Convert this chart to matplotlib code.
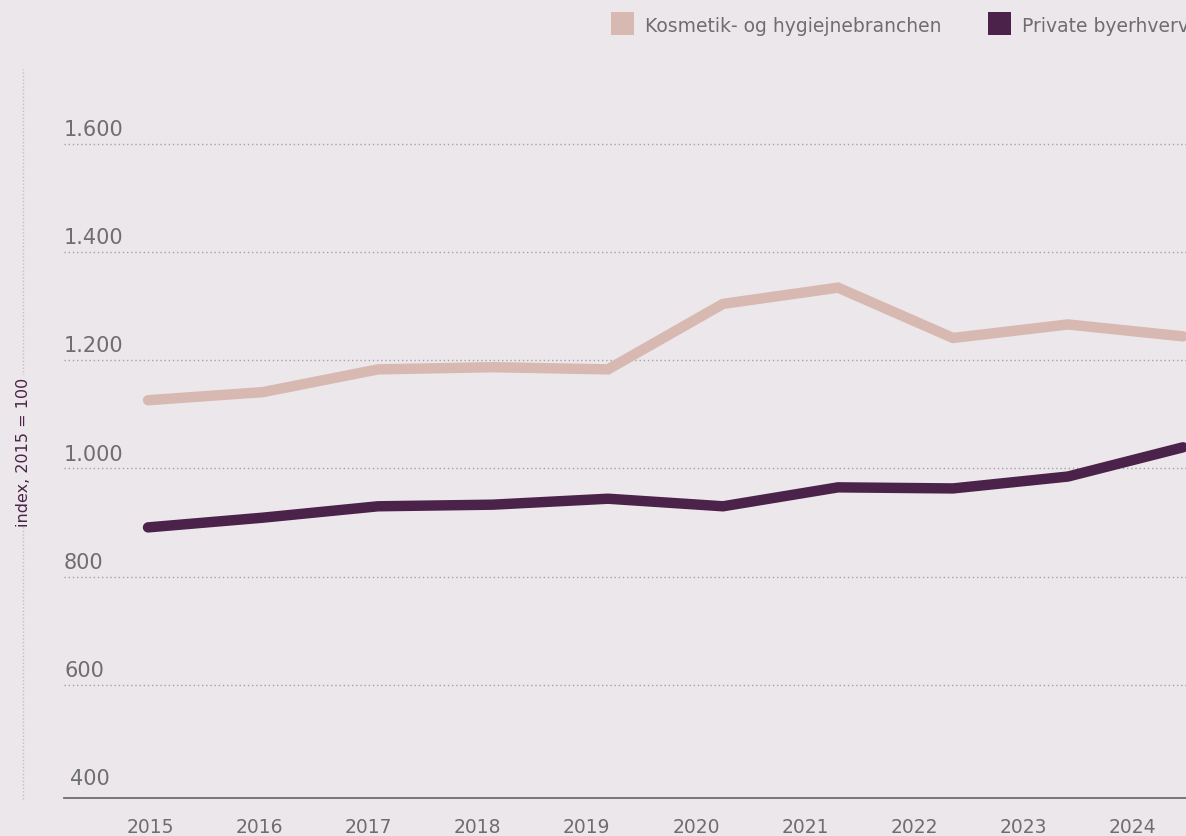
import numpy as np
import matplotlib
matplotlib.use("Agg")
import matplotlib.pyplot as plt
from matplotlib.patches import Rectangle
from matplotlib.lines import Line2D

# data (index, 2015 = 100)
years = [2015, 2016, 2017, 2018, 2019, 2020, 2021, 2022, 2023, 2024]
kosmetik = [1126, 1141, 1183, 1187, 1183, 1304, 1334, 1241, 1266, 1244]
private = [891, 909, 930, 933, 944, 930, 965, 963, 985, 1039]
series_names = ["Kosmetik- og hygiejnebranchen", "Private byerhverv"]
y_ticks = [400, 600, 800, 1000, 1200, 1400, 1600]
y_title = "index, 2015 = 100"

BG = "#ece7ea"
LIGHT = "#d7b9b2"
DARK = "#4b2249"
GREY = "#6e6e6e"
GRID = "#a9a0a6"

plt.rcParams["font.family"] = ["DejaVu Sans"]

W, H = 1186, 837
fig = plt.figure(figsize=(W / 100, H / 100), dpi=100, facecolor=BG)
# axes box in pixels: left 64, right 1186, top 70, bottom 799
ax = fig.add_axes([64 / W, 1 - 799 / H, (1186 - 64) / W, (799 - 70) / H])
ax.set_facecolor(BG)

# point positions: 2015 -> px 148, 115 px per year
px0, step = 148, 115.0
ax.set_xlim(2015 - (px0 - 64) / step, 2015 + (1186 - px0) / step)
ax.set_ylim(391, 1738)

for v in y_ticks:
    if v > y_ticks[0]:
        ax.axhline(v, color=GRID, lw=1.0, ls=(0, (1, 2)), zorder=1)
    dx = 4 if v == y_ticks[0] else 0
    ax.annotate(f"{v:,}".replace(",", "."), xy=(0, v), xycoords=("axes fraction", "data"),
                xytext=(dx, 3.5), textcoords="offset points", ha="left", va="bottom",
                fontsize=15, color=GREY)

ax.plot(years, kosmetik, color=LIGHT, lw=7.5, solid_capstyle="round",
        solid_joinstyle="miter", zorder=3)
ax.plot(years, private, color=DARK, lw=7.5, solid_capstyle="round",
        solid_joinstyle="miter", zorder=4)

# year labels sit on their own spacing (150 px + 109.2 px per year)
label_px = 150 + np.arange(len(years)) * 109.2
ax.set_xticks(2015 + (label_px - px0) / step)
ax.set_xticklabels([str(y) for y in years], fontsize=13.5, color=GREY)
ax.tick_params(axis="x", length=0, pad=14)
ax.set_yticks([])

for s in ["top", "left", "right"]:
    ax.spines[s].set_visible(False)
ax.spines["bottom"].set_color(GREY)
ax.spines["bottom"].set_linewidth(1.3)

# dotted vertical rule on the far left with the axis title over it
fig.add_artist(Line2D([23 / W, 23 / W], [1 - 800 / H, 1 - 70 / H], color="#c4bcc1",
                      lw=1.0, ls=(0, (1, 1.5))))
fig.text(24 / W, 1 - 452 / H, y_title, rotation=90, ha="center", va="center",
         fontsize=11.5, color=DARK,
         bbox=dict(facecolor=BG, edgecolor="none", pad=1))

# legend
for x0, col, name in [(611, LIGHT, series_names[0]), (988, DARK, series_names[1])]:
    fig.add_artist(Rectangle((x0 / W, 1 - 36 / H), 23 / W, 23 / H, transform=fig.transFigure,
                             facecolor=col, edgecolor="none"))
    fig.text((x0 + 34) / W, 1 - 27 / H, name, ha="left", va="center",
             fontsize=13.5, color=GREY)

fig.savefig("out.png", dpi=100, facecolor=BG)
